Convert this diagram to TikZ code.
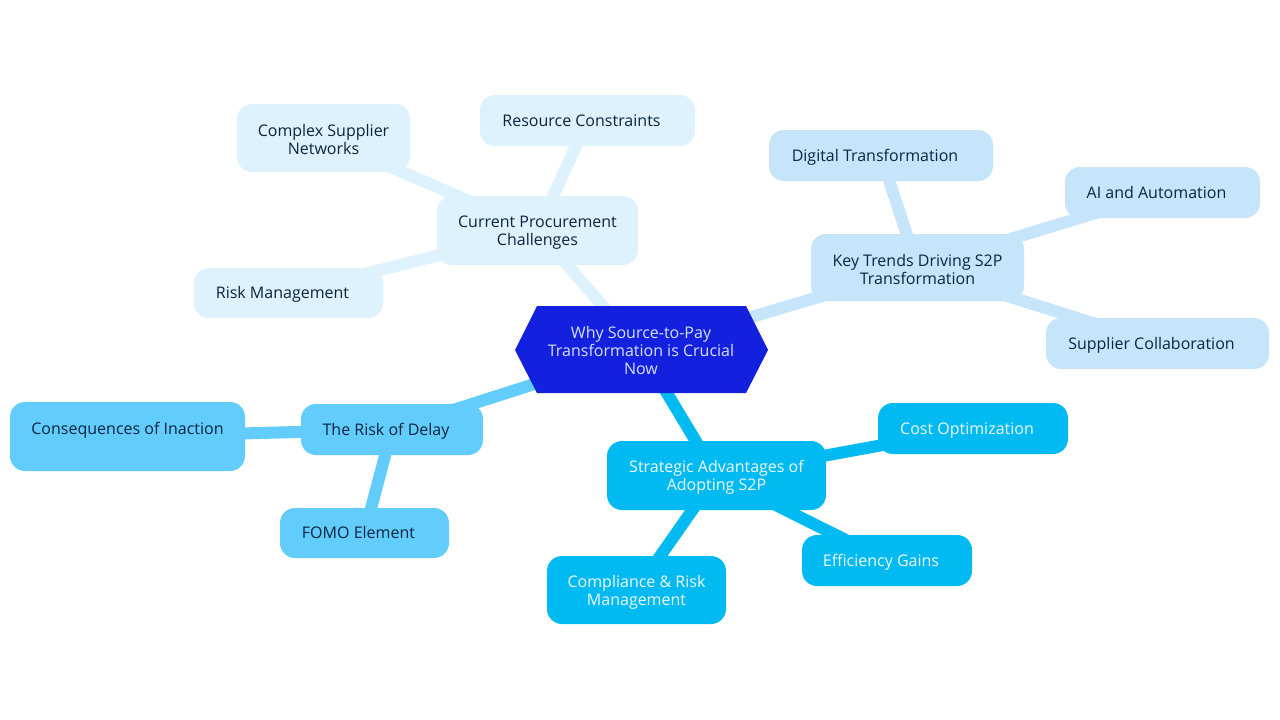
\documentclass[tikz,border=0pt]{standalone}
\usepackage{fontspec}
\setmainfont{Open Sans}
\usetikzlibrary{backgrounds}
\definecolor{gA}{HTML}{DDF2FC}
\definecolor{gB}{HTML}{C6E5FB}
\definecolor{gC}{HTML}{62CDFC}
\definecolor{gD}{HTML}{00BAF1}
\definecolor{hub}{HTML}{1320DE}
\definecolor{hubtxt}{HTML}{D6E0FF}
\definecolor{ink}{HTML}{0A2540}
\definecolor{wtxt}{HTML}{EEF8FF}
\newcommand{\pad}{\kern12pt}
\tikzset{
  box/.style={rectangle, rounded corners=15pt, inner sep=0pt,
    font=\fontsize{16}{18}\selectfont, text=ink},
  single/.style={text height=12.5pt, text depth=1.5pt},
  multi/.style={align=center, text height=34pt},
  boxA/.style={box, fill=gA},
  boxB/.style={box, fill=gB},
  boxC/.style={box, fill=gC},
  boxD/.style={box, fill=gD, text=wtxt},
  link/.style={line width=12pt},
}
\begin{document}
\begin{tikzpicture}[x=1pt,y=-1pt]
\useasboundingbox (0,0) rectangle (1280,720);
% hub hexagon
\fill[hub] (515,350) -- (537,306) -- (746,306) -- (768,350) -- (746,393) -- (537,393) -- cycle;
\node[align=center, text=hubtxt, font=\fontsize{16}{18}\selectfont] (hub) at (641,350) {Why Source-to-Pay\\Transformation is Crucial\\Now};
% group A
\node[boxA, multi, minimum width=201pt, minimum height=69pt] (cur) at (537.5,230.5) {Current Procurement\\Challenges};
\node[boxA, multi, minimum width=173pt, minimum height=68pt] (csn) at (323.5,138) {Complex Supplier\\Networks};
\node[boxA, single, minimum width=215pt, minimum height=51pt] (rc) at (587.5,120.5) {Resource Constraints\pad};
\node[boxA, single, minimum width=189pt, minimum height=50pt] (rm) at (288.5,293) {Risk Management\pad};
% group B
\node[boxB, multi, minimum width=213pt, minimum height=67pt] (kt) at (917.5,267.5) {Key Trends Driving S2P\\Transformation};
\node[boxB, single, minimum width=224pt, minimum height=51pt] (dt) at (881,155.5) {Digital Transformation\pad};
\node[boxB, single, minimum width=195pt, minimum height=51pt] (ai) at (1162.5,192.5) {AI and Automation\pad};
\node[boxB, single, minimum width=223pt, minimum height=51pt] (sc) at (1157.5,343.5) {Supplier Collaboration\pad};
% group C
\node[boxC, single, minimum width=182pt, minimum height=51pt] (rd) at (392,429.5) {The Risk of Delay\pad};
\node[boxC, minimum width=235pt, minimum height=69pt] (coi) at (127.5,436.5) {};
\node[box, single] (coit) at (127.5,428.5) {Consequences of Inaction};
\node[boxC, single, minimum width=169pt, minimum height=50pt] (fomo) at (364.5,533) {FOMO Element\pad};
% group D
\node[boxD, multi, minimum width=219pt, minimum height=69pt] (sa) at (716.5,475.5) {Strategic Advantages of\\Adopting S2P};
\node[boxD, single, minimum width=190pt, minimum height=51pt] (co) at (973,428.5) {Cost Optimization\pad};
\node[boxD, single, minimum width=170pt, minimum height=51pt] (eg) at (887,560.5) {Efficiency Gains\pad};
\node[boxD, multi, minimum width=179pt, minimum height=68pt] (cr) at (636.5,590) {Compliance \& Risk\\Management};
% connectors
\begin{scope}[on background layer]
\draw[link, gA] (hub.center) -- (cur.center);
\draw[link, gA] (cur.center) -- (csn.center);
\draw[link, gA] (cur.center) -- (rc.center);
\draw[link, gA] (cur.center) -- (rm.center);
\draw[link, gB] (hub.center) -- (kt.center);
\draw[link, gB] (kt.center) -- (dt.center);
\draw[link, gB] (kt.center) -- (ai.center);
\draw[link, gB] (kt.center) -- (sc.center);
\draw[link, gC] (hub.center) -- (rd.center);
\draw[link, gC] (rd.center) -- (coi.center);
\draw[link, gC] (rd.center) -- (fomo.center);
\draw[link, gD] (hub.center) -- (sa.center);
\draw[link, gD] (sa.center) -- (co.center);
\draw[link, gD] (sa.center) -- (eg.center);
\draw[link, gD] (sa.center) -- (cr.center);
\end{scope}
\end{tikzpicture}
\end{document}
